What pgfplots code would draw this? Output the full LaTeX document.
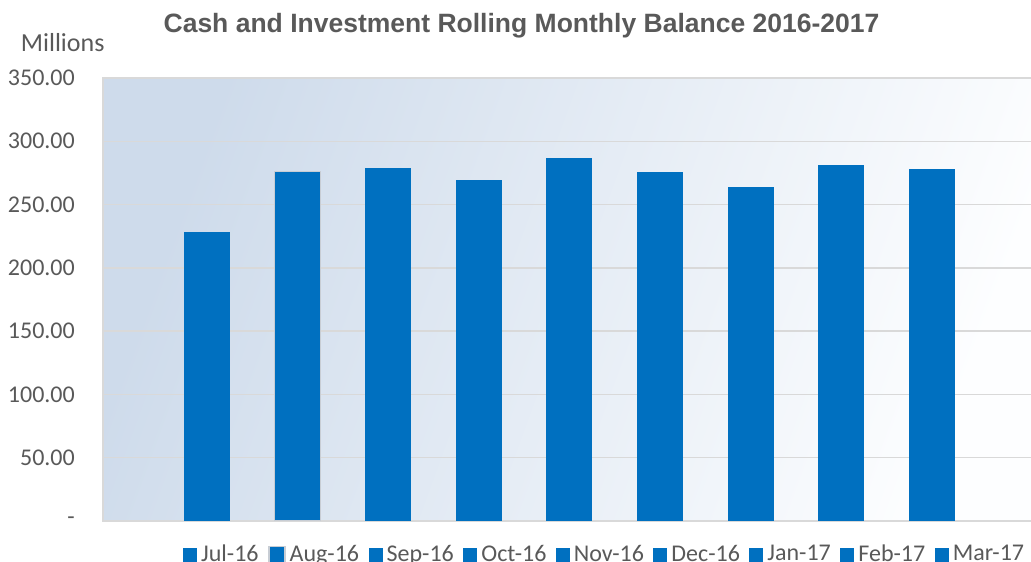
\documentclass[border=0pt]{standalone}
\usepackage{pgfplots}
\pgfplotsset{compat=1.18}
\usepackage{fontspec}
\setmainfont{Carlito}
\newfontfamily\titlefont{Liberation Sans}
\definecolor{barblue}{RGB}{0,112,192}
\definecolor{txtgrey}{RGB}{89,89,89}
\definecolor{gridgrey}{RGB}{217,217,217}
\definecolor{bgll}{RGB}{206,219,235}
\definecolor{bgend}{RGB}{253,254,255}
\definecolor{edgegrey}{RGB}{200,205,212}
\begin{document}
\begin{tikzpicture}
\path[use as bounding box] (0,0) rectangle (1031bp,562bp);
\begin{axis}[
  at={(103bp,41bp)}, anchor=south west,
  scale only axis, width=937bp, height=443bp,
  xmin=-1.148, xmax=9.194, ymin=0, ymax=350,
  xtick=\empty,
  ytick={0,50,...,350},
  yticklabels={{-\hspace{11bp}},50.00,100.00,150.00,200.00,250.00,300.00,350.00},
  major tick length=0pt,
  yticklabel style={font=\fontsize{24bp}{28bp}\selectfont, text=txtgrey, inner sep=0pt, anchor=east, xshift=-28bp},
  ymajorgrids, grid style={draw=gridgrey, line width=1.5bp},
  axis line style={draw=gridgrey, line width=1.5bp},
  axis background/.style={shade, shading=axis, left color=bgll, right color=bgend, shading angle=70},
  legend columns=9,
  legend style={draw=none, fill=none, inner sep=0pt, at={(rel axis cs:0.0854,-0.0745)}, anchor=west,
    font=\fontsize{24bp}{28bp}\selectfont, text=txtgrey,
    nodes={inner sep=0pt},
    /tikz/every odd column/.append style={column sep=4bp},
    /tikz/every even column/.append style={column sep=9.5bp}},
  legend image code/.code={\fill[barblue] (0bp,-8bp) rectangle (14bp,6bp);},
]
\addplot[ybar, bar width=46bp, fill=barblue, draw=none] coordinates {(0,228.6)};
\addlegendentry{Jul-16}
\addplot[ybar, bar width=46bp, fill=barblue, draw=edgegrey, line width=1.5bp,
  legend image code/.code={\fill[edgegrey] (-1bp,-9bp) rectangle (15bp,7bp); \fill[barblue] (0.5bp,-7.5bp) rectangle (13.5bp,5.5bp);}] coordinates {(1,276.1)};
\addlegendentry{Aug-16}
\addplot[ybar, bar width=46bp, fill=barblue, draw=none] coordinates {(2,278.5)};
\addlegendentry{Sep-16}
\addplot[ybar, bar width=46bp, fill=barblue, draw=none] coordinates {(3,269.8)};
\addlegendentry{Oct-16}
\addplot[ybar, bar width=46bp, fill=barblue, draw=none] coordinates {(4,286.4)};
\addlegendentry{Nov-16}
\addplot[ybar, bar width=46bp, fill=barblue, draw=none] coordinates {(5,276.1)};
\addlegendentry{Dec-16}
\addplot[ybar, bar width=46bp, fill=barblue, draw=none] coordinates {(6,264.2)};
\addlegendentry{Jan-17}
\addplot[ybar, bar width=46bp, fill=barblue, draw=none] coordinates {(7,280.9)};
\addlegendentry{Feb-17}
\addplot[ybar, bar width=46bp, fill=barblue, draw=none] coordinates {(8,277.9)};
\addlegendentry{Mar-17}
\end{axis}
\node[font=\titlefont\bfseries\fontsize{26.5bp}{30bp}\selectfont, text=txtgrey, anchor=base, inner sep=0pt] at (521.5bp,529bp) {Cash and Investment Rolling Monthly Balance 2016-2017};
\node[font=\fontsize{26bp}{30bp}\selectfont, text=txtgrey, anchor=base west, inner sep=0pt] at (20.7bp,510.3bp) {Millions};
\end{tikzpicture}
\end{document}
